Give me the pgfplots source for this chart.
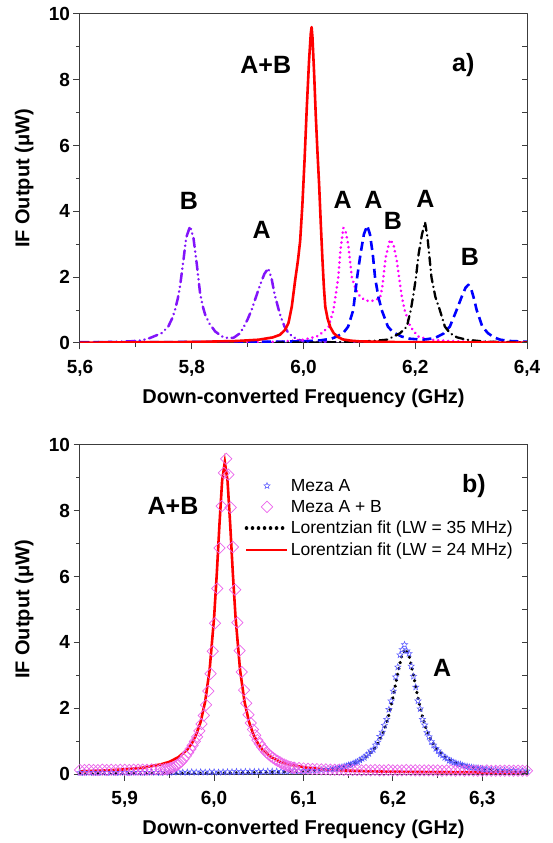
\documentclass[border=0pt]{standalone}
\usepackage{fontspec}
\setmainfont{Liberation Sans}
\usepackage{pgfplots}
\pgfplotsset{compat=1.18}

\definecolor{cviolet}{RGB}{130,20,250}
\definecolor{cmag}{RGB}{255,0,255}
\definecolor{cblue}{RGB}{0,0,255}
\definecolor{cred}{RGB}{255,0,0}
\definecolor{cdiam}{RGB}{235,100,235}
\definecolor{cstar}{RGB}{85,85,255}
\definecolor{cframe}{RGB}{60,60,60}

\pgfdeclareplotmark{pentastar}{%
  \pgfpathmoveto{\pgfpointpolar{90}{\pgfplotmarksize}}%
  \pgfpathlineto{\pgfpointpolar{126}{0.42\pgfplotmarksize}}%
  \pgfpathlineto{\pgfpointpolar{162}{\pgfplotmarksize}}%
  \pgfpathlineto{\pgfpointpolar{198}{0.42\pgfplotmarksize}}%
  \pgfpathlineto{\pgfpointpolar{234}{\pgfplotmarksize}}%
  \pgfpathlineto{\pgfpointpolar{270}{0.42\pgfplotmarksize}}%
  \pgfpathlineto{\pgfpointpolar{306}{\pgfplotmarksize}}%
  \pgfpathlineto{\pgfpointpolar{342}{0.42\pgfplotmarksize}}%
  \pgfpathlineto{\pgfpointpolar{18}{\pgfplotmarksize}}%
  \pgfpathlineto{\pgfpointpolar{54}{0.42\pgfplotmarksize}}%
  \pgfpathclose
  \pgfusepathqstroke
}

\tikzset{annot/.style={font=\fontsize{25}{25}\selectfont\bfseries}}

\pgfplotsset{
  myaxis/.style={
    scale only axis, width=447pt, height=329pt,
    anchor=south west,
    ymin=0, ymax=10,
    axis line style={cframe, line width=1pt},
    every tick/.style={cframe, line width=1pt},
    major tick length=6.5pt, minor tick length=4pt,
    tick align=outside,
    xtick pos=bottom, ytick pos=left,
    ytick={0,2,4,6,8,10}, yticklabels={0,2,4,6,8,10},
    minor ytick={1,3,5,7,9},
    tick label style={font=\fontsize{19}{19}\selectfont\bfseries},
    xticklabel style={yshift=-7pt},
    label style={font=\fontsize{20}{20}\selectfont\bfseries},
    xlabel={Down-converted Frequency (GHz)},
    ylabel={IF Output (μW)},
    xlabel style={at={(axis description cs:0.5,-0.167)}, anchor=center},
    ylabel style={at={(axis description cs:-0.125,0.5)}, anchor=center},
  },
  rightticks/.style={
    scale only axis, width=447pt, height=329pt,
    anchor=south west,
    ymin=0, ymax=10,
    axis x line=none, axis y line*=right,
    ytick={0,1,...,10}, yticklabels={},
    tick align=inside, major tick length=5pt,
    axis line style={cframe, line width=1pt},
    every tick/.style={cframe, line width=1pt},
  },
  lineleg/.style={legend image code/.code={\draw[##1] (0pt,0pt) -- (41pt,0pt);}},
  markleg/.style={legend image code/.code={\draw[##1] plot coordinates {(20.5pt,0pt)};}},
}

\begin{document}
\begin{tikzpicture}
\path[use as bounding box] (0,0) rectangle (553pt,843pt);

% ---------------- panel a ----------------
\begin{axis}[myaxis, at={(80pt,500pt)},
  xmin=5.6, xmax=6.4,
  xtick={5.6,5.8,6.0,6.2,6.4}, xticklabels={{5,6},{5,8},{6,0},{6,2},{6,4}},
  minor xtick={5.7,5.9,6.1,6.3},
  line join=round]
\addplot[cviolet, line width=2.5pt, line cap=round, dash pattern=on 9pt off 4.5pt on 0.3pt off 4.5pt on 0.3pt off 4.5pt] coordinates {
(5.60,0.03)(5.65,0.03)(5.69,0.05)(5.71,0.08)(5.725,0.15)(5.735,0.22)(5.746,0.3)(5.758,0.5)(5.765,0.75)(5.770,1.0)(5.775,1.35)(5.779,1.72)(5.785,2.5)(5.79,3.2)(5.797,3.55)(5.803,3.2)(5.809,2.4)(5.815,1.5)(5.82,1.1)(5.824,0.86)(5.832,0.58)(5.842,0.35)(5.854,0.2)(5.865,0.15)(5.875,0.16)(5.885,0.28)(5.892,0.45)(5.90,0.72)(5.907,1.0)(5.915,1.4)(5.922,1.75)(5.93,2.1)(5.937,2.27)(5.943,1.95)(5.948,1.5)(5.955,1.05)(5.96,0.76)(5.966,0.5)(5.972,0.33)(5.98,0.2)(5.99,0.1)(6.00,0.06)(6.03,0.03)(6.10,0.02)(6.40,0.02)};
\addplot[cmag, line width=2.9pt, line cap=round, dash pattern=on 0.01pt off 5pt] coordinates {
(5.90,0.02)(5.96,0.04)(6.0,0.1)(6.024,0.2)(6.035,0.33)(6.045,0.5)(6.0536,1.0)(6.058,1.5)(6.0623,2.0)(6.066,2.8)(6.0713,3.5)(6.076,3.35)(6.080,3.0)(6.0865,2.0)(6.093,1.65)(6.101,1.42)(6.11,1.3)(6.119,1.27)(6.128,1.3)(6.137,1.37)(6.141,1.7)(6.143,2.0)(6.147,2.6)(6.1548,3.14)(6.161,3.0)(6.167,2.5)(6.171,2.0)(6.176,1.4)(6.181,1.0)(6.191,0.5)(6.205,0.2)(6.226,0.1)(6.26,0.06)(6.30,0.04)(6.40,0.02)};
\addplot[cblue, line width=2.6pt, dash pattern=on 9pt off 5pt] coordinates {
(5.60,0.02)(5.80,0.03)(5.95,0.04)(6.00,0.05)(6.03,0.08)(6.05,0.13)(6.06,0.2)(6.071,0.3)(6.08,0.5)(6.089,1.0)(6.096,2.0)(6.102,2.7)(6.108,3.3)(6.114,3.57)(6.119,3.3)(6.124,2.7)(6.128,2.0)(6.134,1.4)(6.140,1.0)(6.151,0.5)(6.16,0.33)(6.175,0.2)(6.19,0.13)(6.214,0.1)(6.235,0.15)(6.25,0.28)(6.262,0.5)(6.274,1.0)(6.283,1.4)(6.29,1.68)(6.295,1.77)(6.30,1.65)(6.305,1.35)(6.310,1.0)(6.32,0.5)(6.33,0.3)(6.34,0.18)(6.352,0.1)(6.37,0.06)(6.40,0.04)};
\addplot[black, line width=2.3pt, line cap=round, dash pattern=on 8pt off 4.5pt on 0.3pt off 4.5pt] coordinates {
(5.95,0.01)(6.05,0.02)(6.10,0.04)(6.13,0.07)(6.149,0.1)(6.162,0.2)(6.173,0.3)(6.185,0.5)(6.192,1.0)(6.197,1.5)(6.2013,2.0)(6.206,2.7)(6.212,3.3)(6.2175,3.67)(6.222,3.2)(6.229,2.0)(6.236,1.4)(6.244,1.0)(6.253,0.5)(6.262,0.3)(6.275,0.17)(6.292,0.1)(6.32,0.05)(6.35,0.03)(6.40,0.02)};
\addplot[cred, line width=2.6pt] coordinates {
(5.60,0.01)(5.70,0.02)(5.80,0.03)(5.88,0.06)(5.92,0.1)(5.945,0.17)(5.958,0.25)(5.967,0.4)(5.973,0.6)(5.979,1.1)(5.985,1.9)(5.99,2.5)(5.994,3.1)(5.998,4.2)(6.002,5.6)(6.006,7.2)(6.010,8.6)(6.013,9.4)(6.0145,9.6)(6.016,9.3)(6.019,8.2)(6.022,6.9)(6.025,5.8)(6.028,4.8)(6.031,3.6)(6.034,2.5)(6.0365,1.7)(6.039,1.1)(6.043,0.75)(6.048,0.48)(6.054,0.3)(6.062,0.18)(6.07,0.11)(6.085,0.07)(6.10,0.05)(6.15,0.03)(6.25,0.02)(6.40,0.01)};
\node[annot] at (axis cs:5.9325,8.45) {A+B};
\node[annot] at (axis cs:6.286,8.45) {a)};
\node[annot] at (axis cs:5.795,4.31) {B};
\node[annot] at (axis cs:5.925,3.45) {A};
\node[annot] at (axis cs:6.070,4.36) {A};
\node[annot] at (axis cs:6.125,4.36) {A};
\node[annot] at (axis cs:6.160,3.71) {B};
\node[annot] at (axis cs:6.218,4.38) {A};
\node[annot] at (axis cs:6.298,2.63) {B};
\end{axis}
\begin{axis}[rightticks, at={(80pt,500pt)}, xmin=5.6, xmax=6.4]
\end{axis}

% ---------------- panel b ----------------
\begin{axis}[myaxis, at={(80pt,69pt)},
  xmin=5.85, xmax=6.35,
  xtick={5.9,6.0,6.1,6.2,6.3}, xticklabels={{5,9},{6,0},{6,1},{6,2},{6,3}},
  minor xtick={5.95,6.05,6.15,6.25},
  legend style={draw=none, fill=none, at={(axis description cs:0.368,0.902)}, anchor=north west,
    font=\fontsize{17.5}{21}\selectfont, row sep=4.3pt, inner sep=0pt, nodes={inner sep=1.6pt}},
  legend cell align=left]
\addplot[only marks, mark=pentastar, mark size=3.3pt, cstar, mark options={line width=0.5pt}, markleg] coordinates {
(5.850,0.04)(5.855,0.04)(5.860,0.05)(5.865,0.04)(5.870,0.04)(5.875,0.05)(5.880,0.04)(5.885,0.05)(5.890,0.04)(5.895,0.05)
(5.900,0.05)(5.905,0.04)(5.910,0.05)(5.915,0.05)(5.920,0.04)(5.925,0.05)(5.930,0.05)(5.935,0.05)(5.940,0.04)(5.945,0.05)
(5.950,0.05)(5.955,0.05)(5.960,0.06)(5.965,0.05)(5.970,0.05)(5.975,0.06)(5.980,0.05)(5.985,0.06)(5.990,0.05)(5.995,0.06)
(6.000,0.06)(6.005,0.05)(6.010,0.06)(6.015,0.06)(6.020,0.06)(6.025,0.07)(6.030,0.06)(6.035,0.07)(6.040,0.07)(6.045,0.07)
(6.050,0.07)(6.055,0.07)(6.060,0.08)(6.065,0.08)(6.070,0.08)(6.075,0.08)(6.080,0.08)(6.085,0.09)(6.090,0.09)(6.095,0.09)
(6.100,0.09)(6.105,0.10)(6.110,0.11)(6.115,0.11)(6.120,0.12)(6.125,0.13)(6.130,0.14)
(6.133,0.15)(6.1355,0.16)(6.138,0.17)(6.1405,0.19)(6.143,0.21)(6.1455,0.23)(6.148,0.24)(6.1505,0.27)(6.153,0.29)(6.1555,0.32)
(6.158,0.35)(6.1605,0.37)(6.163,0.42)(6.1655,0.47)(6.168,0.50)(6.1705,0.57)(6.173,0.62)(6.1755,0.70)(6.178,0.74)(6.1805,0.88)
(6.183,0.97)(6.1855,1.14)(6.188,1.27)(6.1905,1.48)(6.193,1.66)(6.1955,1.96)(6.198,2.22)(6.2005,2.52)(6.203,2.95)(6.2055,3.25)
(6.208,3.62)(6.2105,3.78)(6.213,3.93)(6.2155,3.74)(6.218,3.66)(6.2205,3.28)(6.223,2.97)(6.2255,2.64)(6.228,2.22)(6.2305,1.98)
(6.233,1.66)(6.2355,1.49)(6.238,1.26)(6.2405,1.13)(6.243,0.98)(6.2455,0.88)(6.248,0.77)(6.2505,0.70)(6.253,0.61)(6.2555,0.57)
(6.258,0.50)(6.2605,0.47)(6.263,0.41)(6.2655,0.39)(6.268,0.35)(6.2705,0.33)(6.273,0.30)(6.2755,0.29)(6.278,0.26)(6.2805,0.24)
(6.283,0.23)(6.2855,0.21)(6.288,0.20)(6.2905,0.19)(6.293,0.18)(6.2955,0.17)(6.298,0.16)(6.3005,0.15)(6.303,0.14)
(6.305,0.14)(6.310,0.13)(6.315,0.12)(6.320,0.11)(6.325,0.11)(6.330,0.10)(6.335,0.10)(6.340,0.09)(6.345,0.09)(6.350,0.09)};
\addlegendentry{Meza A}
\addplot[only marks, mark=square, mark size=4pt, cdiam, mark options={rotate=45, line width=0.7pt}, markleg] coordinates {
(5.850,0.12)(5.855,0.12)(5.860,0.13)(5.865,0.12)(5.870,0.12)(5.875,0.13)(5.880,0.12)(5.885,0.13)(5.890,0.12)(5.895,0.13)
(5.900,0.13)(5.905,0.12)(5.910,0.13)(5.915,0.13)(5.920,0.13)(5.925,0.13)(5.930,0.14)(5.935,0.14)(5.940,0.14)
(5.9435,0.14)(5.946,0.15)(5.9485,0.16)(5.951,0.18)(5.9535,0.20)(5.956,0.23)(5.9585,0.27)(5.961,0.32)(5.9635,0.38)(5.966,0.46)
(5.9685,0.55)(5.971,0.65)(5.9735,0.76)(5.976,0.87)(5.9785,0.99)(5.981,1.13)(5.9835,1.31)(5.986,1.52)(5.9885,1.78)(5.991,2.10)
(5.9935,2.52)(5.996,3.05)(5.9985,3.73)(6.001,4.58)(6.0035,5.64)(6.006,6.87)(6.0085,8.14)(6.011,9.15)(6.0135,9.58)(6.016,9.10)
(6.0185,8.10)(6.021,6.90)(6.0235,5.60)(6.026,4.60)(6.0285,3.75)(6.031,3.10)(6.0335,2.55)(6.036,2.15)(6.0385,1.80)(6.041,1.55)
(6.0435,1.35)(6.046,1.18)(6.0485,1.03)(6.051,0.92)(6.0535,0.82)(6.056,0.74)(6.0585,0.66)(6.061,0.60)(6.0635,0.54)(6.066,0.49)
(6.0685,0.44)(6.071,0.40)(6.0735,0.36)(6.076,0.32)(6.0785,0.29)(6.081,0.26)(6.0835,0.23)(6.086,0.21)(6.0885,0.19)
(6.090,0.19)(6.095,0.18)(6.100,0.17)(6.105,0.16)(6.110,0.15)(6.115,0.15)(6.120,0.14)(6.125,0.14)(6.130,0.13)(6.135,0.13)
(6.140,0.13)(6.145,0.12)(6.150,0.12)(6.155,0.12)(6.160,0.12)(6.165,0.11)(6.170,0.12)(6.175,0.11)(6.180,0.12)(6.185,0.11)
(6.190,0.11)(6.195,0.12)(6.200,0.11)(6.205,0.11)(6.210,0.11)(6.215,0.12)(6.220,0.11)(6.225,0.11)(6.230,0.11)(6.235,0.11)
(6.240,0.11)(6.245,0.11)(6.250,0.11)(6.255,0.10)(6.260,0.11)(6.265,0.11)(6.270,0.10)(6.275,0.11)(6.280,0.10)(6.285,0.11)
(6.290,0.10)(6.295,0.10)(6.300,0.10)(6.305,0.11)(6.310,0.10)(6.315,0.10)(6.320,0.10)(6.325,0.10)(6.330,0.10)(6.335,0.10)
(6.340,0.10)(6.345,0.10)(6.350,0.10)};
\addlegendentry{Meza A + B}
\addplot[black, line width=3.6pt, line cap=round, dash pattern=on 0.01pt off 6pt, lineleg] coordinates {
(5.85,0.009)(5.90,0.012)(5.95,0.017)(6.00,0.025)(6.05,0.043)(6.08,0.064)(6.10,0.088)(6.12,0.127)(6.14,0.201)(6.15,0.264)
(6.16,0.361)(6.17,0.519)(6.18,0.796)(6.185,1.014)(6.19,1.319)(6.195,1.744)(6.20,2.317)(6.205,3.005)(6.21,3.611)(6.214,3.80)
(6.218,3.611)(6.223,3.005)(6.228,2.317)(6.233,1.744)(6.238,1.319)(6.243,1.014)(6.248,0.796)(6.258,0.519)(6.268,0.361)
(6.278,0.264)(6.288,0.201)(6.30,0.151)(6.32,0.101)(6.35,0.062)};
\addlegendentry{Lorentzian fit (LW = 35 MHz)}
\addplot[cred, line width=2.6pt, lineleg] coordinates {
(5.85,0.08)(5.88,0.11)(5.90,0.14)(5.92,0.19)(5.94,0.29)(5.95,0.37)(5.96,0.51)(5.97,0.74)(5.975,0.93)(5.98,1.20)
(5.985,1.59)(5.99,2.20)(5.995,3.17)(6.00,4.76)(6.003,6.08)(6.006,7.59)(6.009,8.92)(6.012,9.48)(6.015,8.92)(6.018,7.59)
(6.021,6.08)(6.024,4.76)(6.029,3.17)(6.034,2.20)(6.039,1.59)(6.044,1.20)(6.049,0.93)(6.054,0.74)(6.064,0.51)(6.074,0.37)
(6.084,0.29)(6.104,0.19)(6.124,0.14)(6.144,0.11)(6.174,0.08)(6.20,0.07)(6.25,0.054)(6.30,0.046)(6.35,0.042)};
\addlegendentry{Lorentzian fit (LW = 24 MHz)}
\node[annot] at (axis cs:5.954,8.15) {A+B};
\node[annot] at (axis cs:6.2905,8.75) {b)};
\node[annot] at (axis cs:6.255,3.24) {A};
\end{axis}
\begin{axis}[rightticks, at={(80pt,69pt)}, xmin=5.85, xmax=6.35]
\end{axis}
\end{tikzpicture}
\end{document}
